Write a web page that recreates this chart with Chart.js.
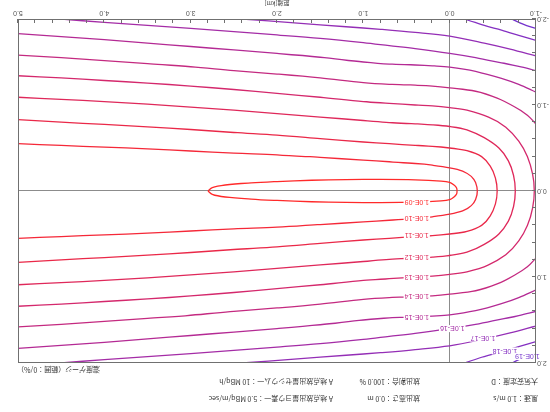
<!DOCTYPE html>
<html><head><meta charset="utf-8">
<script src="https://cdn.jsdelivr.net/npm/chart.js@4.4.1/dist/chart.umd.min.js"></script>
<style>
html,body{margin:0;padding:0;background:#fff;}
#wrap{position:relative;width:550px;height:412px;transform:rotate(180deg);transform-origin:50% 50%;overflow:hidden;font-family:"Noto Sans CJK JP",sans-serif;background:#fff;}
canvas{position:absolute;left:0;top:0;}
.info{position:absolute;font-size:7px;color:#333;white-space:nowrap;line-height:8px;}
</style></head>
<body><div id="wrap"><canvas id="c" width="550" height="412"></canvas>
<div class="info" style="left:12px;top:9px">風速：1.0 m/s</div>
<div class="info" style="left:130px;top:9px">放出高さ：0.0 m</div>
<div class="info" style="left:217px;top:9px">A 地点放出量ヨウ素一：5.0 MBq/m/sec</div>
<div class="info" style="left:12px;top:26px">大気安定度：D</div>
<div class="info" style="left:130px;top:26px">放出割合：100.0 %</div>
<div class="info" style="left:217px;top:26px">A 地点放出量セシウム一：10 MBq/h</div>
<div class="info" style="left:450px;top:38px">濃度ゲージ（範囲：0/%）</div>
</div>
<script>
// ---- data ----
const xTicks = [-1, 0, 1, 2, 3, 4, 5];
const yTicks = [-2, -1, 0, 1, 2];
const contourLevels = ['1.0E-09','1.0E-10','1.0E-11','1.0E-12','1.0E-13','1.0E-14','1.0E-15','1.0E-16','1.0E-17','1.0E-18','1.0E-19'];

const c09 = [[2.80,0],[2.75,0.04],[2.6,0.07],[2.3,0.095],[2.0,0.11],[1.6,0.125],[1.2,0.133],[0.8,0.135],[0.4,0.13],[0.1,0.115],[0,0.10],[-0.05,0.07],[-0.08,0.035],[-0.085,0],
  [-0.08,-0.035],[-0.05,-0.07],[0,-0.10],[0.1,-0.115],[0.4,-0.13],[0.8,-0.135],[1.2,-0.133],[1.6,-0.125],[2.0,-0.11],[2.3,-0.095],[2.6,-0.07],[2.75,-0.04],[2.80,0]];
const c10 = [[5.0,0.55],[4.5,0.53],[4.0,0.51],[3.5,0.49],[3.0,0.465],[2.5,0.44],[2.0,0.42],[1.5,0.39],[1.0,0.36],[0.7,0.34],[0.4,0.32],[0.2,0.30],[0,0.27],[-0.15,0.23],[-0.25,0.17],[-0.30,0.10],[-0.32,0],
  [-0.30,-0.10],[-0.25,-0.17],[-0.15,-0.23],[0,-0.27],[0.2,-0.30],[0.4,-0.32],[0.7,-0.34],[1.0,-0.36],[1.5,-0.39],[2.0,-0.42],[2.5,-0.44],[3.0,-0.465],[3.5,-0.49],[4.0,-0.51],[4.5,-0.53],[5.0,-0.55]];
const c11 = [[5,0.83],[4.5,0.80],[4,0.775],[3.5,0.745],[3,0.715],[2.5,0.68],[2,0.65],[1.5,0.61],[1,0.57],[0.7,0.55],[0.4,0.53],[0.2,0.52],[0,0.50],[-0.2,0.47],[-0.37,0.40],[-0.47,0.29],[-0.53,0.15],[-0.55,0],
  [-0.53,-0.15],[-0.47,-0.29],[-0.37,-0.40],[-0.2,-0.47],[0,-0.50],[0.2,-0.52],[0.4,-0.53],[0.7,-0.55],[1,-0.57],[1.5,-0.61],[2,-0.65],[2.5,-0.68],[3,-0.715],[3.5,-0.745],[4,-0.775],[4.5,-0.80],[5,-0.83]];
const c12 = [[5,1.09],[4.5,1.065],[4,1.04],[3.5,1.01],[3,0.975],[2.5,0.94],[2,0.90],[1.5,0.86],[1,0.82],[0.7,0.795],[0.4,0.78],[0.2,0.77],[0,0.75],[-0.2,0.71],[-0.4,0.62],[-0.57,0.50],[-0.68,0.35],[-0.74,0.18],[-0.76,0],
  [-0.74,-0.18],[-0.68,-0.35],[-0.57,-0.50],[-0.4,-0.62],[-0.2,-0.71],[0,-0.75],[0.2,-0.77],[0.4,-0.78],[0.7,-0.795],[1,-0.82],[1.5,-0.86],[2,-0.90],[2.5,-0.94],[3,-0.975],[3.5,-1.01],[4,-1.04],[4.5,-1.065],[5,-1.09]];
const c13 = [[5,1.34],[4.5,1.315],[4,1.285],[3.5,1.255],[3,1.22],[2.5,1.18],[2,1.135],[1.5,1.09],[1,1.04],[0.7,1.02],[0.4,1.0],[0.2,0.99],[0,0.97],[-0.2,0.94],[-0.45,0.86],[-0.65,0.74],[-0.8,0.58],[-0.9,0.40],[-0.96,0.20],[-0.98,0],
  [-0.96,-0.20],[-0.9,-0.40],[-0.8,-0.58],[-0.65,-0.74],[-0.45,-0.86],[-0.2,-0.94],[0,-0.97],[0.2,-0.99],[0.4,-1.0],[0.7,-1.02],[1,-1.04],[1.5,-1.09],[2,-1.135],[2.5,-1.18],[3,-1.22],[3.5,-1.255],[4,-1.285],[4.5,-1.315],[5,-1.34]];
const c14 = [[5,1.58],[4.5,1.55],[4,1.515],[3.5,1.48],[3,1.445],[2.5,1.40],[2,1.36],[1.5,1.315],[1,1.26],[0.7,1.24],[0.4,1.23],[0.2,1.22],[0,1.20],[-0.3,1.16],[-0.55,1.08],[-0.75,0.98],[-0.9,0.88],[-1.0,0.78]];
const c14b = [[5,-1.58],[4.5,-1.55],[4,-1.515],[3.5,-1.48],[3,-1.445],[2.5,-1.40],[2,-1.36],[1.5,-1.315],[1,-1.26],[0.7,-1.24],[0.4,-1.23],[0.2,-1.22],[0,-1.20],[-0.3,-1.16],[-0.55,-1.08],[-0.75,-0.98],[-0.9,-0.88],[-1.0,-0.78]];
const c15 = [[5,1.83],[4.5,1.795],[4,1.76],[3.5,1.72],[3,1.68],[2.5,1.64],[2,1.60],[1.5,1.555],[1,1.50],[0.7,1.475],[0.4,1.465],[0.2,1.455],[0,1.44],[-0.3,1.39],[-0.6,1.31],[-0.8,1.24],[-1.0,1.15]];
const c15b = [[5,-1.83],[4.5,-1.795],[4,-1.76],[3.5,-1.72],[3,-1.68],[2.5,-1.64],[2,-1.60],[1.5,-1.555],[1,-1.50],[0.7,-1.475],[0.4,-1.465],[0.2,-1.455],[0,-1.44],[-0.3,-1.39],[-0.6,-1.31],[-0.8,-1.24],[-1.0,-1.15]];
const c16 = [[4.5,2.0],[4,1.96],[3,1.89],[2,1.815],[1.5,1.775],[1,1.725],[0.7,1.69],[0.4,1.655],[0,1.60],[-0.3,1.55],[-0.6,1.49],[-0.8,1.45],[-1.0,1.40]];
const c16b = [[4.5,-2.0],[4,-1.96],[3,-1.89],[2,-1.815],[1.5,-1.775],[1,-1.725],[0.7,-1.69],[0.4,-1.655],[0,-1.60],[-0.3,-1.55],[-0.6,-1.49],[-0.8,-1.45],[-1.0,-1.40]];
const c17 = [[2.4,2.0],[1.8,1.955],[1.2,1.91],[0.8,1.88],[0.4,1.845],[0,1.80],[-0.4,1.72],[-0.7,1.65],[-1.0,1.57]];
const c17b = [[2.4,-2.0],[1.8,-1.955],[1.2,-1.91],[0.8,-1.88],[0.4,-1.845],[0,-1.80],[-0.4,-1.72],[-0.7,-1.65],[-1.0,-1.57]];
const c18 = [[-0.17,2.0],[-0.4,1.925],[-0.6,1.87],[-0.8,1.81],[-1.0,1.75]];
const c18b = [[-0.17,-2.0],[-0.4,-1.925],[-0.6,-1.87],[-0.8,-1.81],[-1.0,-1.75]];
const c19 = [[-0.72,2.0],[-0.85,1.94],[-1.0,1.89]];
const c19b = [[-0.72,-2.0],[-0.85,-1.94],[-1.0,-1.89]];

const labelX = [0.38, 0.38, 0.38, 0.38, 0.38, 0.38, 0.38, -0.03, -0.385, -0.64, -0.9];
const labelY = [0.13, 0.32, 0.52, 0.775, 1.0, 1.23, 1.465, 1.60, 1.71, 1.86, 1.925];

// ---- styles ----
const contourColors = ['#ff2a2a','#f52838','#ea2848','#df285a','#d4286c','#c42a80','#b42a94','#a42ca6','#942eb6','#8430c2','#7432cc'];
const paths = [[c09,0],[c10,1],[c11,2],[c12,3],[c13,4],[c14,5],[c14b,5],[c15,6],[c15b,6],[c16,7],[c16b,7],[c17,8],[c17b,8],[c18,9],[c18b,9],[c19,10],[c19b,10]];

const datasets = paths.map(([pts, li]) => ({
  label: contourLevels[li],
  data: pts.map(p => ({x: p[0], y: p[1]})),
  showLine: true, pointRadius: 0, borderWidth: 1.3,
  borderColor: contourColors[li], tension: 0.35, fill: false
}));

const frame = {
  id: 'frame',
  afterDatasetsDraw(chart) {
    const {ctx, chartArea: a, scales: {x, y}} = chart;
    ctx.save();
    ctx.font = '7px "Liberation Sans", sans-serif';
    ctx.textAlign = 'center'; ctx.textBaseline = 'middle';
    contourLevels.forEach((t, i) => {
      const px = x.getPixelForValue(labelX[i]), py = y.getPixelForValue(labelY[i]);
      const w = ctx.measureText(t).width;
      ctx.fillStyle = '#fff';
      ctx.fillRect(px - w/2 - 1, py - 3.5, w + 2, 7);
      ctx.fillStyle = contourColors[i];
      ctx.fillText(t, px, py + 0.5);
    });
    ctx.strokeStyle = '#707070'; ctx.lineWidth = 1;
    ctx.strokeRect(a.left + 0.5, a.top + 0.5, a.right - a.left - 1, a.bottom - a.top - 1);
    ctx.beginPath();
    for (let v = -1; v <= 5.0001; v += 0.2) {
      const px = Math.round(x.getPixelForValue(v)) + 0.5;
      ctx.moveTo(px, a.bottom); ctx.lineTo(px, a.bottom - 4);
    }
    for (let v = -2; v <= 2.0001; v += 0.2) {
      const py = Math.round(y.getPixelForValue(v)) + 0.5;
      ctx.moveTo(a.left, py); ctx.lineTo(a.left + 4, py);
    }
    ctx.stroke();
    ctx.restore();
  }
};

new Chart(document.getElementById('c'), {
  type: 'scatter',
  data: { datasets },
  options: {
    responsive: false, animation: false,
    layout: { padding: { top: 49, right: 18, left: 0, bottom: 0 } },
    plugins: { legend: { display: false }, tooltip: { enabled: false } },
    scales: {
      x: {
        type: 'linear', min: -1, max: 5,
        afterBuildTicks: s => { s.ticks = xTicks.map(v => ({ value: v })); },
        afterFit: s => { s.height = 19; },
        ticks: { callback: v => Number(v).toFixed(1), font: { size: 7, family: '"Liberation Sans", sans-serif' }, color: '#555', padding: 2, maxRotation: 0 },
        grid: { color: c => (c.tick && c.tick.value === 0) ? '#8c8c8c' : 'rgba(0,0,0,0)', drawTicks: false, lineWidth: 1 },
        border: { display: false },
        title: { display: true, text: '距離[km]', font: { size: 6, family: '"Noto Sans CJK JP", sans-serif' }, color: '#444', padding: 0 }
      },
      y: {
        type: 'linear', min: -2, max: 2,
        afterBuildTicks: s => { s.ticks = yTicks.map(v => ({ value: v })); },
        afterFit: s => { s.width = 14; },
        ticks: { callback: v => Number(v).toFixed(1), font: { size: 7, family: '"Liberation Sans", sans-serif' }, color: '#555', padding: 1 },
        grid: { color: c => (c.tick && c.tick.value === 0) ? '#8c8c8c' : 'rgba(0,0,0,0)', drawTicks: false, lineWidth: 1 },
        border: { display: false }
      }
    }
  },
  plugins: [frame]
});
</script>
</body></html>
